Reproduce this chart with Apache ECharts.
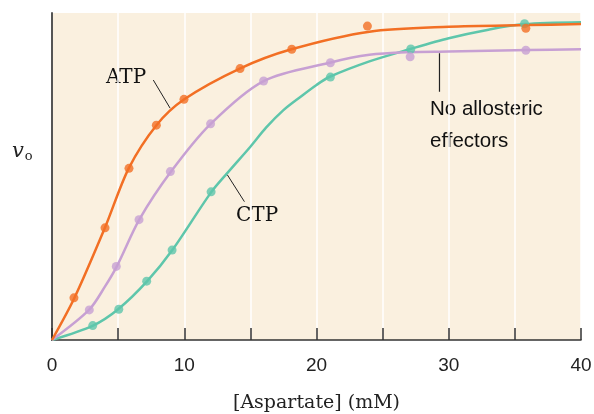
<!DOCTYPE html>
<html>
<head>
<meta charset="utf-8">
<script src="https://cdn.jsdelivr.net/npm/echarts@6/dist/echarts.min.js"></script>
<style>html,body{margin:0;padding:0;background:#fff;}#c{width:594px;height:414px;}</style>
</head>
<body>
<div id="c"></div>
<script>
// Measured points
var atpX = [1.66, 4.01, 5.82, 7.89, 9.98, 14.22, 18.13, 23.85, 35.83];
var atpV = [12.9, 34.3, 52.5, 65.7, 73.6, 83.0, 88.9, 96.0, 95.3];
var noneX = [2.82, 4.86, 6.58, 8.95, 11.99, 16.0, 21.05, 27.08, 35.83];
var noneV = [9.2, 22.5, 36.8, 51.5, 66.1, 79.2, 84.8, 86.6, 88.6];
var ctpX = [3.08, 5.05, 7.16, 9.08, 12.03, 21.05, 27.13, 35.73];
var ctpV = [4.4, 9.4, 18.0, 27.5, 45.3, 80.4, 89.0, 96.7];
// Fitted curves
var atpCurveX = [0, 1.7, 4, 5.8, 7.9, 10, 14.2, 18.1, 24, 30, 36, 40];
var atpCurveV = [0, 12.9, 34.3, 52.5, 65.7, 73.6, 83, 88.9, 94.3, 95.8, 96.3, 96.6];
var noneCurveX = [0, 2.8, 4.0, 4.9, 6.6, 9, 12, 16, 21, 24, 27, 30, 36, 40];
var noneCurveV = [0, 9.2, 16.3, 22.5, 36.8, 51.5, 66.1, 79.2, 84.8, 87.2, 88.0, 88.2, 88.7, 88.9];
var ctpCurveX = [0, 3.1, 5, 7.2, 9.1, 12, 13.2, 15, 16.2, 17.5, 18.8, 20, 21, 24, 27.1, 30, 33, 35.7, 40];
var ctpCurveV = [0, 4.4, 9.4, 18, 27.5, 45.0, 50.8, 59.1, 65.0, 70.3, 74.4, 78, 80.5, 85.2, 89, 92.3, 94.9, 96.6, 97.2];
var xTicks = [0, 10, 20, 30, 40];

function pairs(xs, vs) { return xs.map(function (x, i) { return [x, vs[i]]; }); }

var ORANGE = '#f26f24', PURPLE = '#c7a0d3', TEAL = '#5ec6ab';
var chart = echarts.init(document.getElementById('c'));
chart.setOption({
  animation: false,
  backgroundColor: '#ffffff',
  grid: { left: 52, right: 13, top: 13, bottom: 74, show: true, backgroundColor: '#faf0df', borderWidth: 0,
          containLabel: false, outerBoundsMode: 'none' },
  xAxis: {
    type: 'value', min: 0, max: 40, interval: 5,
    name: '[Aspartate] (mM)', nameLocation: 'middle', nameGap: 54,
    nameTextStyle: { fontFamily: 'DejaVu Serif', fontSize: 19, color: '#222' },
    axisLine: { lineStyle: { color: '#333', width: 1.5 } },
    axisTick: { inside: true, length: 12, lineStyle: { color: '#333', width: 1.5 } },
    axisLabel: { margin: 16, fontFamily: 'Liberation Sans', fontSize: 19, color: '#222',
      formatter: function (v) { return xTicks.indexOf(v) >= 0 ? String(v) : ''; } },
    splitLine: { show: true, lineStyle: { color: '#ffffff', width: 1.5 } }
  },
  yAxis: {
    type: 'value', min: 0, max: 100,
    axisLine: { show: true, lineStyle: { color: '#555', width: 2 } },
    axisTick: { show: false }, axisLabel: { show: false }, splitLine: { show: false }
  },
  series: [
    { type: 'line', data: pairs(ctpCurveX, ctpCurveV), smooth: 0.3, showSymbol: false, lineStyle: { color: TEAL, width: 2.5 }, z: 2 },
    { type: 'line', data: pairs(noneCurveX, noneCurveV), smooth: 0.3, showSymbol: false, lineStyle: { color: PURPLE, width: 2.5 }, z: 2 },
    { type: 'line', data: pairs(atpCurveX, atpCurveV), smooth: 0.3, showSymbol: false, lineStyle: { color: ORANGE, width: 2.5 }, z: 2 },
    { type: 'scatter', data: pairs(ctpX, ctpV), symbolSize: 9, itemStyle: { color: TEAL }, z: 3 },
    { type: 'scatter', data: pairs(noneX, noneV), symbolSize: 9, itemStyle: { color: PURPLE }, z: 3 },
    { type: 'scatter', data: pairs(atpX, atpV), symbolSize: 9, itemStyle: { color: ORANGE }, z: 3 },
    { type: 'line', data: [[7.66, 79.5], [8.93, 70.9]], showSymbol: false, lineStyle: { color: '#222', width: 1 }, z: 4 },
    { type: 'line', data: [[13.26, 50.5], [14.55, 42.3]], showSymbol: false, lineStyle: { color: '#222', width: 1 }, z: 4 },
    { type: 'line', data: [[29.3, 87.7], [29.3, 75.9]], showSymbol: false, lineStyle: { color: '#222', width: 1.2 }, z: 4 }
  ],
  graphic: [
    { type: 'text', left: 106, top: 68, style: { text: 'ATP', font: '20px "DejaVu Serif"', fill: '#111' } },
    { type: 'text', left: 236, top: 206, style: { text: 'CTP', font: '20px "DejaVu Serif"', fill: '#111' } },
    { type: 'text', left: 430, top: 93, style: { text: 'No allosteric\neffectors', font: '20.5px "Liberation Sans"', lineHeight: 32, fill: '#111' } },
    { type: 'text', left: 12, top: 141, style: { text: '{v|v}{o|o}', rich: {
        v: { fontFamily: 'DejaVu Serif', fontStyle: 'italic', fontSize: 21, fill: '#222' },
        o: { fontFamily: 'DejaVu Serif', fontSize: 13, fill: '#222', padding: [10, 0, 0, 1] } } } }
  ]
});
</script>
</body>
</html>
